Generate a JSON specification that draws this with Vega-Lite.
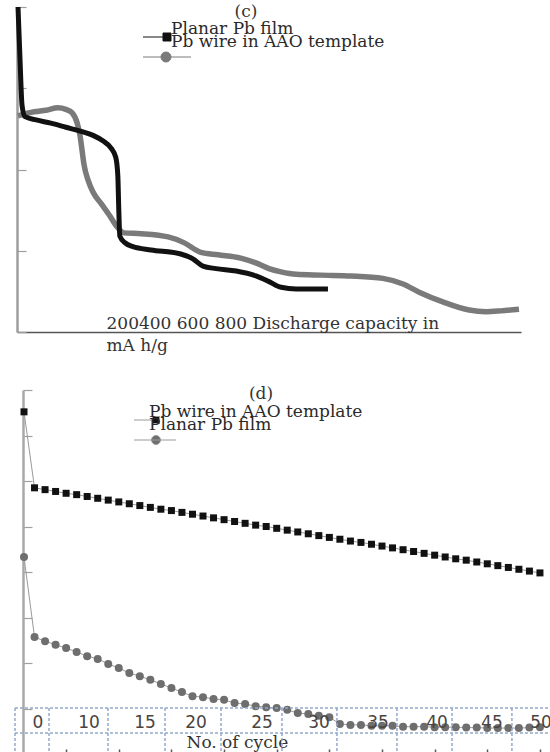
{
  "$schema": "https://vega.github.io/schema/vega-lite/v6.json",
  "padding": {"left": 14, "top": 2, "right": 0, "bottom": 0},
  "background": "white",
  "bounds": "flush",
  "spacing": 58,
  "resolve": {"scale": {"color": "independent"}, "legend": {"color": "independent"}},
  "config": {"view": {"stroke": null}, "font": "DejaVu Serif", "legend": {"labelFont": "DejaVu Serif", "titleFont": "DejaVu Serif"}},
  "datasets": {
    "discharge": [
      {"series": "Planar Pb film", "capacity": 2, "voltage": 4.0},
      {"series": "Planar Pb film", "capacity": 6, "voltage": 3.35},
      {"series": "Planar Pb film", "capacity": 10, "voltage": 2.79},
      {"series": "Planar Pb film", "capacity": 16, "voltage": 2.65},
      {"series": "Planar Pb film", "capacity": 38, "voltage": 2.61},
      {"series": "Planar Pb film", "capacity": 67, "voltage": 2.57},
      {"series": "Planar Pb film", "capacity": 97, "voltage": 2.52},
      {"series": "Planar Pb film", "capacity": 127, "voltage": 2.47},
      {"series": "Planar Pb film", "capacity": 151, "voltage": 2.42},
      {"series": "Planar Pb film", "capacity": 171, "voltage": 2.35},
      {"series": "Planar Pb film", "capacity": 187, "voltage": 2.26},
      {"series": "Planar Pb film", "capacity": 196, "voltage": 2.15},
      {"series": "Planar Pb film", "capacity": 200, "voltage": 1.93},
      {"series": "Planar Pb film", "capacity": 202, "voltage": 1.5},
      {"series": "Planar Pb film", "capacity": 204, "voltage": 1.18},
      {"series": "Planar Pb film", "capacity": 214, "voltage": 1.1},
      {"series": "Planar Pb film", "capacity": 230, "voltage": 1.05},
      {"series": "Planar Pb film", "capacity": 266, "voltage": 1.01},
      {"series": "Planar Pb film", "capacity": 325, "voltage": 0.96},
      {"series": "Planar Pb film", "capacity": 349, "voltage": 0.9},
      {"series": "Planar Pb film", "capacity": 369, "voltage": 0.81},
      {"series": "Planar Pb film", "capacity": 395, "voltage": 0.78},
      {"series": "Planar Pb film", "capacity": 435, "voltage": 0.75},
      {"series": "Planar Pb film", "capacity": 474, "voltage": 0.69},
      {"series": "Planar Pb film", "capacity": 500, "voltage": 0.62},
      {"series": "Planar Pb film", "capacity": 524, "voltage": 0.55},
      {"series": "Planar Pb film", "capacity": 554, "voltage": 0.53},
      {"series": "Planar Pb film", "capacity": 617, "voltage": 0.53},
      {"series": "Pb wire in AAO template", "capacity": 2, "voltage": 2.66},
      {"series": "Pb wire in AAO template", "capacity": 34, "voltage": 2.71},
      {"series": "Pb wire in AAO template", "capacity": 58, "voltage": 2.73},
      {"series": "Pb wire in AAO template", "capacity": 81, "voltage": 2.76},
      {"series": "Pb wire in AAO template", "capacity": 97, "voltage": 2.74},
      {"series": "Pb wire in AAO template", "capacity": 109, "voltage": 2.7},
      {"series": "Pb wire in AAO template", "capacity": 119, "voltage": 2.58},
      {"series": "Pb wire in AAO template", "capacity": 125, "voltage": 2.42},
      {"series": "Pb wire in AAO template", "capacity": 129, "voltage": 2.24},
      {"series": "Pb wire in AAO template", "capacity": 133, "voltage": 2.06},
      {"series": "Pb wire in AAO template", "capacity": 141, "voltage": 1.87},
      {"series": "Pb wire in AAO template", "capacity": 151, "voltage": 1.72},
      {"series": "Pb wire in AAO template", "capacity": 167, "voltage": 1.58},
      {"series": "Pb wire in AAO template", "capacity": 183, "voltage": 1.44},
      {"series": "Pb wire in AAO template", "capacity": 198, "voltage": 1.3},
      {"series": "Pb wire in AAO template", "capacity": 212, "voltage": 1.22},
      {"series": "Pb wire in AAO template", "capacity": 246, "voltage": 1.21},
      {"series": "Pb wire in AAO template", "capacity": 300, "voltage": 1.17},
      {"series": "Pb wire in AAO template", "capacity": 331, "voltage": 1.1},
      {"series": "Pb wire in AAO template", "capacity": 365, "voltage": 0.98},
      {"series": "Pb wire in AAO template", "capacity": 399, "voltage": 0.95},
      {"series": "Pb wire in AAO template", "capacity": 444, "voltage": 0.91},
      {"series": "Pb wire in AAO template", "capacity": 474, "voltage": 0.85},
      {"series": "Pb wire in AAO template", "capacity": 500, "voltage": 0.78},
      {"series": "Pb wire in AAO template", "capacity": 524, "voltage": 0.74},
      {"series": "Pb wire in AAO template", "capacity": 554, "voltage": 0.71},
      {"series": "Pb wire in AAO template", "capacity": 603, "voltage": 0.7},
      {"series": "Pb wire in AAO template", "capacity": 663, "voltage": 0.69},
      {"series": "Pb wire in AAO template", "capacity": 726, "voltage": 0.66},
      {"series": "Pb wire in AAO template", "capacity": 766, "voltage": 0.59},
      {"series": "Pb wire in AAO template", "capacity": 798, "voltage": 0.49},
      {"series": "Pb wire in AAO template", "capacity": 845, "voltage": 0.37},
      {"series": "Pb wire in AAO template", "capacity": 897, "voltage": 0.27},
      {"series": "Pb wire in AAO template", "capacity": 931, "voltage": 0.25},
      {"series": "Pb wire in AAO template", "capacity": 960, "voltage": 0.26},
      {"series": "Pb wire in AAO template", "capacity": 996, "voltage": 0.28}
    ],
    "cycling": [
      {"series": "Pb wire in AAO template", "cycle": 1, "capacity": 752},
      {"series": "Pb wire in AAO template", "cycle": 2, "capacity": 585},
      {"series": "Pb wire in AAO template", "cycle": 3, "capacity": 581},
      {"series": "Pb wire in AAO template", "cycle": 4, "capacity": 577},
      {"series": "Pb wire in AAO template", "cycle": 5, "capacity": 573},
      {"series": "Pb wire in AAO template", "cycle": 6, "capacity": 570},
      {"series": "Pb wire in AAO template", "cycle": 7, "capacity": 566},
      {"series": "Pb wire in AAO template", "cycle": 8, "capacity": 562},
      {"series": "Pb wire in AAO template", "cycle": 9, "capacity": 558},
      {"series": "Pb wire in AAO template", "cycle": 10, "capacity": 554},
      {"series": "Pb wire in AAO template", "cycle": 11, "capacity": 550},
      {"series": "Pb wire in AAO template", "cycle": 12, "capacity": 546},
      {"series": "Pb wire in AAO template", "cycle": 13, "capacity": 542},
      {"series": "Pb wire in AAO template", "cycle": 14, "capacity": 538},
      {"series": "Pb wire in AAO template", "cycle": 15, "capacity": 535},
      {"series": "Pb wire in AAO template", "cycle": 16, "capacity": 531},
      {"series": "Pb wire in AAO template", "cycle": 17, "capacity": 527},
      {"series": "Pb wire in AAO template", "cycle": 18, "capacity": 523},
      {"series": "Pb wire in AAO template", "cycle": 19, "capacity": 519},
      {"series": "Pb wire in AAO template", "cycle": 20, "capacity": 515},
      {"series": "Pb wire in AAO template", "cycle": 21, "capacity": 511},
      {"series": "Pb wire in AAO template", "cycle": 22, "capacity": 507},
      {"series": "Pb wire in AAO template", "cycle": 23, "capacity": 503},
      {"series": "Pb wire in AAO template", "cycle": 24, "capacity": 500},
      {"series": "Pb wire in AAO template", "cycle": 25, "capacity": 496},
      {"series": "Pb wire in AAO template", "cycle": 26, "capacity": 492},
      {"series": "Pb wire in AAO template", "cycle": 27, "capacity": 488},
      {"series": "Pb wire in AAO template", "cycle": 28, "capacity": 484},
      {"series": "Pb wire in AAO template", "cycle": 29, "capacity": 480},
      {"series": "Pb wire in AAO template", "cycle": 30, "capacity": 476},
      {"series": "Pb wire in AAO template", "cycle": 31, "capacity": 472},
      {"series": "Pb wire in AAO template", "cycle": 32, "capacity": 468},
      {"series": "Pb wire in AAO template", "cycle": 33, "capacity": 465},
      {"series": "Pb wire in AAO template", "cycle": 34, "capacity": 461},
      {"series": "Pb wire in AAO template", "cycle": 35, "capacity": 457},
      {"series": "Pb wire in AAO template", "cycle": 36, "capacity": 453},
      {"series": "Pb wire in AAO template", "cycle": 37, "capacity": 449},
      {"series": "Pb wire in AAO template", "cycle": 38, "capacity": 445},
      {"series": "Pb wire in AAO template", "cycle": 39, "capacity": 441},
      {"series": "Pb wire in AAO template", "cycle": 40, "capacity": 437},
      {"series": "Pb wire in AAO template", "cycle": 41, "capacity": 433},
      {"series": "Pb wire in AAO template", "cycle": 42, "capacity": 429},
      {"series": "Pb wire in AAO template", "cycle": 43, "capacity": 426},
      {"series": "Pb wire in AAO template", "cycle": 44, "capacity": 422},
      {"series": "Pb wire in AAO template", "cycle": 45, "capacity": 418},
      {"series": "Pb wire in AAO template", "cycle": 46, "capacity": 414},
      {"series": "Pb wire in AAO template", "cycle": 47, "capacity": 410},
      {"series": "Pb wire in AAO template", "cycle": 48, "capacity": 406},
      {"series": "Pb wire in AAO template", "cycle": 49, "capacity": 402},
      {"series": "Pb wire in AAO template", "cycle": 50, "capacity": 398},
      {"series": "Planar Pb film", "cycle": 1, "capacity": 433},
      {"series": "Planar Pb film", "cycle": 2, "capacity": 257},
      {"series": "Planar Pb film", "cycle": 3, "capacity": 248},
      {"series": "Planar Pb film", "cycle": 4, "capacity": 240},
      {"series": "Planar Pb film", "cycle": 5, "capacity": 233},
      {"series": "Planar Pb film", "cycle": 6, "capacity": 224},
      {"series": "Planar Pb film", "cycle": 7, "capacity": 215},
      {"series": "Planar Pb film", "cycle": 8, "capacity": 209},
      {"series": "Planar Pb film", "cycle": 9, "capacity": 198},
      {"series": "Planar Pb film", "cycle": 10, "capacity": 189},
      {"series": "Planar Pb film", "cycle": 11, "capacity": 178},
      {"series": "Planar Pb film", "cycle": 12, "capacity": 171},
      {"series": "Planar Pb film", "cycle": 13, "capacity": 163},
      {"series": "Planar Pb film", "cycle": 14, "capacity": 154},
      {"series": "Planar Pb film", "cycle": 15, "capacity": 145},
      {"series": "Planar Pb film", "cycle": 16, "capacity": 136},
      {"series": "Planar Pb film", "cycle": 17, "capacity": 127},
      {"series": "Planar Pb film", "cycle": 18, "capacity": 125},
      {"series": "Planar Pb film", "cycle": 19, "capacity": 121},
      {"series": "Planar Pb film", "cycle": 20, "capacity": 119},
      {"series": "Planar Pb film", "cycle": 21, "capacity": 112},
      {"series": "Planar Pb film", "cycle": 22, "capacity": 110},
      {"series": "Planar Pb film", "cycle": 23, "capacity": 105},
      {"series": "Planar Pb film", "cycle": 24, "capacity": 103},
      {"series": "Planar Pb film", "cycle": 25, "capacity": 101},
      {"series": "Planar Pb film", "cycle": 26, "capacity": 97},
      {"series": "Planar Pb film", "cycle": 27, "capacity": 90},
      {"series": "Planar Pb film", "cycle": 28, "capacity": 88},
      {"series": "Planar Pb film", "cycle": 29, "capacity": 84},
      {"series": "Planar Pb film", "cycle": 30, "capacity": 81},
      {"series": "Planar Pb film", "cycle": 31, "capacity": 66},
      {"series": "Planar Pb film", "cycle": 32, "capacity": 64},
      {"series": "Planar Pb film", "cycle": 33, "capacity": 64},
      {"series": "Planar Pb film", "cycle": 34, "capacity": 62},
      {"series": "Planar Pb film", "cycle": 35, "capacity": 62},
      {"series": "Planar Pb film", "cycle": 36, "capacity": 62},
      {"series": "Planar Pb film", "cycle": 37, "capacity": 60},
      {"series": "Planar Pb film", "cycle": 38, "capacity": 60},
      {"series": "Planar Pb film", "cycle": 39, "capacity": 60},
      {"series": "Planar Pb film", "cycle": 40, "capacity": 59},
      {"series": "Planar Pb film", "cycle": 41, "capacity": 59},
      {"series": "Planar Pb film", "cycle": 42, "capacity": 59},
      {"series": "Planar Pb film", "cycle": 43, "capacity": 58},
      {"series": "Planar Pb film", "cycle": 44, "capacity": 58},
      {"series": "Planar Pb film", "cycle": 45, "capacity": 57},
      {"series": "Planar Pb film", "cycle": 46, "capacity": 57},
      {"series": "Planar Pb film", "cycle": 47, "capacity": 57},
      {"series": "Planar Pb film", "cycle": 48, "capacity": 57},
      {"series": "Planar Pb film", "cycle": 49, "capacity": 58},
      {"series": "Planar Pb film", "cycle": 50, "capacity": 59}
    ],
    "tableCols": [
      {"cycle": 0.145}, {"cycle": 3.374}, {"cycle": 8.977}, {"cycle": 14.39}, {"cycle": 19.71},
      {"cycle": 25.5}, {"cycle": 30.72}, {"cycle": 36.42}, {"cycle": 41.65}, {"cycle": 47.34}
    ],
    "tableRows": [{"capacity": 101}, {"capacity": 46}],
    "tableLabels": [
      {"cycle": 2.33, "label": "0"}, {"cycle": 7.17, "label": "10"}, {"cycle": 12.49, "label": "15"},
      {"cycle": 17.33, "label": "20"}, {"cycle": 23.6, "label": "25"}, {"cycle": 29.02, "label": "30"},
      {"cycle": 34.62, "label": "35"}, {"cycle": 40.22, "label": "40"}, {"cycle": 45.44, "label": "45"},
      {"cycle": 50.1, "label": "50"}
    ]
  },
  "vconcat": [
    {
      "width": 504,
      "height": 325,
      "title": {"text": "(c)", "anchor": "middle", "frame": "group", "dx": -23, "offset": -16, "font": "DejaVu Serif", "fontSize": 17, "fontWeight": "normal", "color": "#333333"},
      "data": {"name": "discharge"},
      "encoding": {
        "x": {"field": "capacity", "type": "quantitative", "scale": {"domain": [0, 1000], "nice": false, "zero": false},
          "axis": {"labels": false, "ticks": false, "grid": false, "domainColor": "#555555", "domainWidth": 1.5,
            "title": ["200400 600 800 Discharge capacity in", "mA h/g"], "titleFont": "DejaVu Serif", "titleFontSize": 17, "titleFontWeight": "normal", "titleColor": "#333333",
            "titleX": 89, "titleY": -4, "titleAlign": "left", "titleBaseline": "alphabetic", "titleLineHeight": 22}},
        "y": {"field": "voltage", "type": "quantitative", "scale": {"domain": [0, 4], "nice": false, "zero": false},
          "axis": {"values": [0, 1, 2, 3, 4], "labels": false, "title": null, "grid": false, "domainColor": "#9e9e9e", "domainWidth": 2.5, "tickColor": "#9e9e9e", "tickSize": -9, "tickWidth": 1.2}},
        "color": {"field": "series", "type": "nominal",
          "scale": {"domain": ["Planar Pb film", "Pb wire in AAO template"], "range": ["#111111", "#7a7a7a"]},
          "legend": {"orient": "none", "legendX": 154, "legendY": 14, "padding": 0, "offset": 0,
            "title": ["Planar Pb film", "Pb wire in AAO template"], "titleFont": "DejaVu Serif", "titleFontSize": 17, "titleFontWeight": "normal", "titleColor": "#2a2a2a",
            "titleLineHeight": 13, "titleLimit": 600, "titleAnchor": "start", "titleAlign": "left", "titleBaseline": "top", "titlePadding": -24.5,
            "labelExpr": "''", "labelFontSize": 1, "symbolSize": 400, "symbolStrokeWidth": 1, "rowPadding": 3,
            "encode": {
              "symbols": {"update": {
              "shape": {"signal": "datum.value === 'Planar Pb film' ? 'M-3.85,0H-1.85M-1.85,-0.4H-1.05V0.4H-1.85Z' : 'M-3.85,0H0.95M-1.05,0C-1.05,0.276 -1.274,0.5 -1.55,0.5C-1.826,0.5 -2.05,0.276 -2.05,0C-2.05,-0.276 -1.826,-0.5 -1.55,-0.5C-1.274,-0.5 -1.05,-0.276 -1.05,0Z'"},
              "fill": {"signal": "datum.value === 'Planar Pb film' ? '#111111' : '#7a7a7a'"},
              "stroke": {"value": "#8c8c8c"},
              "strokeWidth": {"value": 1},
              "opacity": {"value": 1}
            }}}}}
      },
      "layer": [
        {"transform": [{"filter": "datum.series === 'Pb wire in AAO template'"}],
         "mark": {"type": "line", "strokeWidth": 5.5, "interpolate": "monotone", "strokeCap": "butt", "strokeJoin": "round"}},
        {"transform": [{"filter": "datum.series === 'Planar Pb film'"}],
         "mark": {"type": "line", "strokeWidth": 5, "interpolate": "monotone", "strokeCap": "butt", "strokeJoin": "round"}}
      ]
    },
    {
      "width": 534,
      "height": 364,
      "title": {"text": "(d)", "anchor": "middle", "frame": "group", "dx": -23, "offset": -14, "font": "DejaVu Serif", "fontSize": 17, "fontWeight": "normal", "color": "#333333"},
      "layer": [
        {
          "data": {"name": "cycling"},
          "mark": {"type": "line", "strokeWidth": 1},
          "encoding": {
            "x": {"field": "cycle", "type": "quantitative", "scale": {"domain": [0.335, 51.05], "nice": false, "zero": false},
              "axis": {"values": [5, 10, 15, 20, 25, 30, 35, 40, 45, 50], "labels": false, "domain": false, "grid": false, "tickColor": "#555555", "tickWidth": 1.5, "tickSize": -5,
                "title": "No. of cycle", "titleFont": "DejaVu Serif", "titleFontSize": 17, "titleFontWeight": "normal", "titleColor": "#333333",
                "titleX": 169, "titleY": -7, "titleAlign": "left", "titleBaseline": "alphabetic"}},
            "y": {"field": "capacity", "type": "quantitative", "scale": {"domain": [0, 800], "nice": false, "zero": false},
              "axis": {"values": [0, 100, 200, 300, 400, 500, 600, 700, 800], "labels": false, "title": null, "grid": false, "offset": -6,
                "domainColor": "#a8a8a8", "domainWidth": 2.5, "tickColor": "#a0a0a0", "tickSize": -9, "tickWidth": 1.2}},
            "color": {"field": "series", "type": "nominal",
              "scale": {"domain": ["Pb wire in AAO template", "Planar Pb film"], "range": ["#9a9a9a", "#9a9a9a"]},
              "legend": {"orient": "none", "legendX": 132, "legendY": 14, "padding": 0, "offset": 0,
                "title": ["Pb wire in AAO template", "Planar Pb film"], "titleFont": "DejaVu Serif", "titleFontSize": 17, "titleFontWeight": "normal", "titleColor": "#2a2a2a",
                "titleLineHeight": 13, "titleLimit": 600, "titleAnchor": "start", "titleAlign": "left", "titleBaseline": "top", "titlePadding": -24.5,
                "labelExpr": "''", "labelFontSize": 1, "symbolSize": 400, "symbolStrokeWidth": 1, "rowPadding": 4,
                "encode": {
                  "symbols": {"update": {
                  "shape": {"signal": "datum.value === 'Pb wire in AAO template' ? 'M-2.55,0H-0.7M-0.7,-0.35H0V0.35H-0.7Z' : 'M-2.55,0H1.65M0.1,0C0.1,0.2485 -0.1015,0.45 -0.35,0.45C-0.5985,0.45 -0.8,0.2485 -0.8,0C-0.8,-0.2485 -0.5985,-0.45 -0.35,-0.45C-0.1015,-0.45 0.1,-0.2485 0.1,0Z'"},
                  "fill": {"signal": "datum.value === 'Pb wire in AAO template' ? '#111111' : '#6e6e6e'"},
                  "stroke": {"value": "#8c8c8c"},
                  "strokeWidth": {"value": 1},
                  "opacity": {"value": 1}
                }}}}}
          }
        },
        {
          "data": {"name": "cycling"},
          "transform": [{"filter": "datum.series === 'Pb wire in AAO template'"}],
          "mark": {"type": "point", "filled": true, "opacity": 1, "shape": "square", "size": 49, "fill": "#111111", "stroke": null},
          "encoding": {
            "x": {"field": "cycle", "type": "quantitative"},
            "y": {"field": "capacity", "type": "quantitative"}
          }
        },
        {
          "data": {"name": "cycling"},
          "transform": [{"filter": "datum.series === 'Planar Pb film'"}],
          "mark": {"type": "point", "filled": true, "opacity": 1, "shape": "circle", "size": 64, "fill": "#6e6e6e", "stroke": null},
          "encoding": {
            "x": {"field": "cycle", "type": "quantitative"},
            "y": {"field": "capacity", "type": "quantitative"}
          }
        },
        {
          "data": {"name": "tableCols"},
          "mark": {"type": "rule", "color": "#93a9cc", "strokeWidth": 1.5, "strokeDash": [3, 2]},
          "encoding": {
            "x": {"field": "cycle", "type": "quantitative"},
            "y": {"datum": 101},
            "y2": {"datum": 0}
          }
        },
        {
          "data": {"name": "tableRows"},
          "mark": {"type": "rule", "color": "#93a9cc", "strokeWidth": 1.5, "strokeDash": [3, 2]},
          "encoding": {
            "y": {"field": "capacity", "type": "quantitative"},
            "x": {"datum": 0.145},
            "x2": {"datum": 51.05}
          }
        },
        {
          "data": {"name": "tableLabels"},
          "mark": {"type": "text", "font": "DejaVu Sans", "fontSize": 17, "color": "#4a4440", "align": "center", "baseline": "middle"},
          "encoding": {
            "x": {"field": "cycle", "type": "quantitative"},
            "y": {"datum": 68},
            "text": {"field": "label"}
          }
        }
      ]
    }
  ]
}
